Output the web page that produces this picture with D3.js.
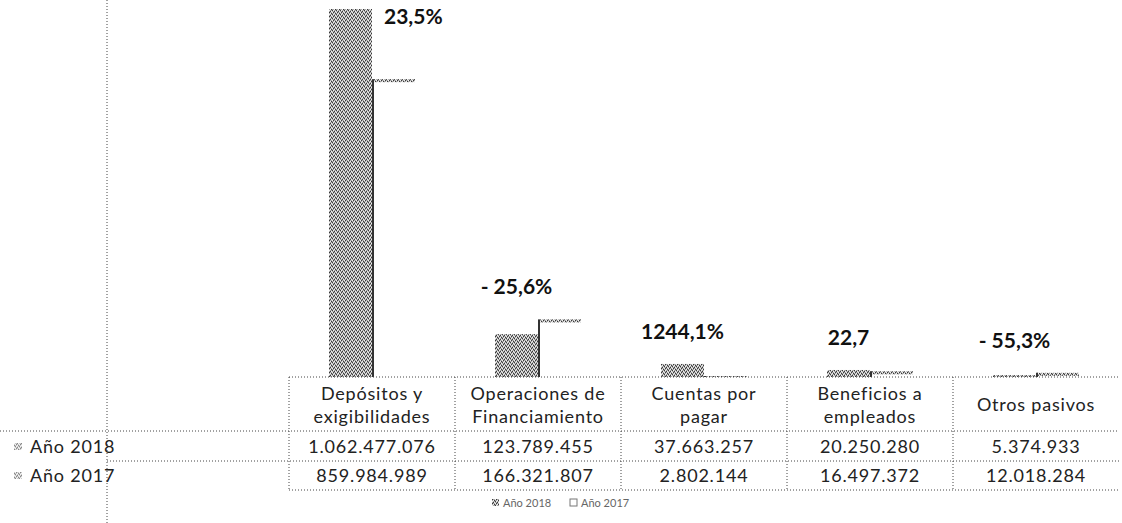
<!DOCTYPE html>
<html>
<head>
<meta charset="utf-8">
<script src="https://cdn.jsdelivr.net/npm/d3@7"></script>
<style>
  body { margin: 0; background: #fff; }
  svg { display: block; }
  text { font-family: Lato, "Open Sans", sans-serif; fill: #222; }
</style>
</head>
<body>
<svg id="chart"></svg>
<script>
// data
var categories = ["Depósitos y|exigibilidades", "Operaciones de|Financiamiento", "Cuentas por|pagar", "Beneficios a|empleados", "Otros pasivos"];
var series = ["Año 2018", "Año 2017"];
var values2018 = [1062477076, 123789455, 37663257, 20250280, 5374933];
var values2017 = [859984989, 166321807, 2802144, 16497372, 12018284];
var variation = ["23,5%", "- 25,6%", "1244,1%", "22,7", "- 55,3%"];

var width = 1122, height = 523;
var svg = d3.select("#chart").attr("width", width).attr("height", height);

// speckled grey like the scan
var defs = svg.append("defs");
var pat = defs.append("pattern").attr("id", "speck")
  .attr("width", 4).attr("height", 4).attr("patternUnits", "userSpaceOnUse");
pat.append("rect").attr("width", 4).attr("height", 4).attr("fill", "#a8a8a8");
[[0,0],[2,1],[1,3],[3,2]].forEach(function(p) {
  pat.append("rect").attr("x", p[0]).attr("y", p[1]).attr("width", 1).attr("height", 1).attr("fill", "#3a3a3a");
});
[[1,1],[3,0],[0,2],[2,3]].forEach(function(p) {
  pat.append("rect").attr("x", p[0]).attr("y", p[1]).attr("width", 1).attr("height", 1).attr("fill", "#f2f2f2");
});

var baseY = 377;
var x = d3.scaleBand().domain(categories).range([289, 1119]);
var bw = x.bandwidth();
var xs = d3.scaleBand().domain(series).range([bw/2 - 43, bw/2 + 43]);
var y = d3.scaleLinear().domain([0, d3.max(values2018.concat(values2017))]).range([baseY, 9]);

var rows = categories.map(function(c, i) {
  return {cat: c, v18: values2018[i], v17: values2017[i], lab: variation[i]};
});

var dotted = "1,2";

// left dotted axis line
svg.append("line").attr("x1", 107).attr("x2", 107).attr("y1", 0).attr("y2", height)
  .attr("stroke", "#444").attr("stroke-dasharray", dotted);

var g = svg.selectAll(".grp").data(rows).enter().append("g")
  .attr("class", "grp")
  .attr("transform", function(d) { return "translate(" + x(d.cat) + ",0)"; });

// 2017 bars: white body, dark top edge
g.append("rect")
  .attr("x", xs("Año 2017"))
  .attr("y", function(d) { return y(d.v17); })
  .attr("width", xs.bandwidth())
  .attr("height", function(d) { return baseY - y(d.v17); })
  .attr("fill", "#fff");
g.append("rect")
  .attr("x", xs("Año 2017"))
  .attr("y", function(d) { return y(d.v17); })
  .attr("width", xs.bandwidth())
  .attr("height", function(d) { return Math.min(3, baseY - y(d.v17)); })
  .attr("fill", "url(#speck)");
g.append("line")
  .attr("x1", xs("Año 2017") + 1).attr("x2", xs("Año 2017") + 1)
  .attr("y1", function(d) { return y(d.v17); }).attr("y2", baseY)
  .attr("stroke", "#333").attr("stroke-width", 2);

// 2018 bars
g.append("rect")
  .attr("x", xs("Año 2018"))
  .attr("y", function(d) { return y(d.v18); })
  .attr("width", xs.bandwidth())
  .attr("height", function(d) { return baseY - y(d.v18); })
  .attr("fill", "url(#speck)");

// variation labels
g.append("text")
  .attr("x", function(d) {
    var top = Math.min(y(d.v18), y(d.v17));
    return top < 40 ? xs("Año 2018") + xs.bandwidth() + 12 : xs("Año 2018") + xs.bandwidth()/2;
  })
  .attr("y", function(d) {
    var top = Math.min(y(d.v18), y(d.v17));
    return top < 40 ? 24 : top - 25;
  })
  .attr("text-anchor", function(d) {
    return Math.min(y(d.v18), y(d.v17)) < 40 ? "start" : "middle";
  })
  .style("font-size", "21px").style("font-weight", "bold").style("fill", "#111")
  .text(function(d) { return d.lab; });

// data table
var fmt = d3.formatLocale({decimal: ",", thousands: ".", grouping: [3], currency: ["", ""]}).format(",d");
var lineYs = [baseY, 431, 461, 490];

svg.append("line").attr("x1", 289).attr("x2", 1119).attr("y1", baseY).attr("y2", baseY)
  .attr("stroke", "#444").attr("stroke-dasharray", dotted);
svg.append("line").attr("x1", 0).attr("x2", 1119).attr("y1", lineYs[1]).attr("y2", lineYs[1])
  .attr("stroke", "#444").attr("stroke-dasharray", dotted);
svg.append("line").attr("x1", 107).attr("x2", 1119).attr("y1", lineYs[2]).attr("y2", lineYs[2])
  .attr("stroke", "#444").attr("stroke-dasharray", dotted);
svg.append("line").attr("x1", 289).attr("x2", 1119).attr("y1", lineYs[3]).attr("y2", lineYs[3])
  .attr("stroke", "#444").attr("stroke-dasharray", dotted);

svg.selectAll(".vdiv").data(categories).enter().append("line")
  .attr("class", "vdiv")
  .attr("x1", function(d) { return x(d); }).attr("x2", function(d) { return x(d); })
  .attr("y1", baseY).attr("y2", lineYs[3])
  .attr("stroke", "#444").attr("stroke-dasharray", dotted);

var cellText = { "font-size": "18px", "letter-spacing": "0.8px" };

g.each(function(d) {
  var cell = d3.select(this);
  var parts = d.cat.split("|");
  var ys = parts.length === 2 ? [394, 417] : [405];
  parts.forEach(function(p, k) {
    cell.append("text").attr("x", bw/2).attr("y", ys[k]).attr("dy", "0.35em")
      .attr("text-anchor", "middle")
      .style("font-size", cellText["font-size"]).style("letter-spacing", cellText["letter-spacing"])
      .text(p);
  });
  cell.append("text").attr("x", bw/2).attr("y", 447).attr("dy", "0.35em")
    .attr("text-anchor", "middle")
    .style("font-size", cellText["font-size"]).style("letter-spacing", cellText["letter-spacing"])
    .text(fmt(d.v18));
  cell.append("text").attr("x", bw/2).attr("y", 476).attr("dy", "0.35em")
    .attr("text-anchor", "middle")
    .style("font-size", cellText["font-size"]).style("letter-spacing", cellText["letter-spacing"])
    .text(fmt(d.v17));
});

// row headers with small keys
var rowY = [447, 476];
series.forEach(function(s, i) {
  svg.append("rect").attr("x", 14).attr("y", rowY[i] - 4).attr("width", 8).attr("height", 7)
    .attr("fill", "url(#speck)").attr("opacity", 0.6);
  svg.append("text").attr("x", 30).attr("y", rowY[i]).attr("dy", "0.35em")
    .style("font-size", "18px").style("letter-spacing", "0.8px")
    .text(s);
});

// bottom legend
var leg = svg.append("g").attr("transform", "translate(492,503)");
series.forEach(function(s, i) {
  var lg = leg.append("g").attr("transform", "translate(" + (i * 78) + ",0)");
  lg.append("rect").attr("x", 0).attr("y", -4).attr("width", 7).attr("height", 7)
    .attr("fill", i === 0 ? "url(#speck)" : "#fff").attr("stroke", i === 0 ? "none" : "#777");
  lg.append("text").attr("x", 11).attr("y", 0).attr("dy", "0.35em")
    .style("font-size", "11px").style("fill", "#666").text(s);
});
</script>
</body>
</html>
